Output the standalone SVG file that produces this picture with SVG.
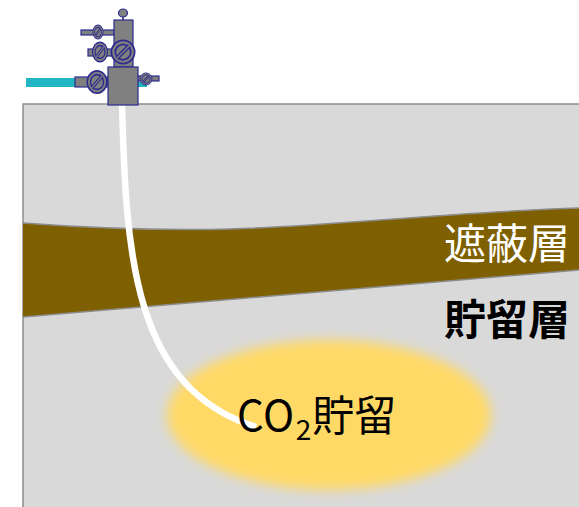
<svg xmlns="http://www.w3.org/2000/svg" xmlns:xlink="http://www.w3.org/1999/xlink" width="579" height="507" viewBox="0 0 579 507">
  <defs>
    <style>
      .metal { fill: #808080; stroke: #2b2b8f; stroke-width: 1.2; }
      .label { font-family: "Noto Sans CJK JP", "Noto Sans", sans-serif; font-size: 42px; }
    </style>
    <filter id="soft" x="-20%" y="-30%" width="140%" height="160%">
      <feGaussianBlur stdDeviation="6"/>
    </filter>
    <!-- handwheel valve: body ring, inner ring and stem bar -->
    <symbol id="valve" viewBox="-10 -10 20 20" overflow="visible">
      <ellipse cx="0" cy="0" rx="9.3" ry="9.3" fill="#808080" stroke="#2b2b8f" stroke-width="1.4"/>
      <ellipse cx="0" cy="0" rx="6.2" ry="6.2" fill="none" stroke="#2b2b8f" stroke-width="1.4"/>
      <line x1="-5" y1="5" x2="5" y2="-5" stroke="#2b2b8f" stroke-width="3.2"/>
      <line x1="-5" y1="5" x2="5" y2="-5" stroke="#808080" stroke-width="1.2"/>
    </symbol>
  </defs>

  <!-- ground section -->
  <g id="ground">
    <rect x="23" y="104" width="570" height="420" fill="#d9d9d9" stroke="#8c8c8c" stroke-width="1.5"/>
  </g>

  <!-- storage plume -->
  <g id="plume">
    <ellipse cx="329" cy="415" rx="162" ry="75" fill="#ffd966" filter="url(#soft)"/>
  </g>

  <!-- cap rock band -->
  <g id="caprock">
    <path d="M23,223 C90,228 150,231 230,229 C330,226 450,212 579,208 L579,270 L23,317 Z" fill="#7f6000"/>
    <path d="M23,223 C90,228 150,231 230,229 C330,226 450,212 579,208" fill="none" stroke="#8c8c8c" stroke-width="1.5"/>
    <path d="M23,317 L579,270" fill="none" stroke="#8c8c8c" stroke-width="1.5"/>
  </g>

  <!-- injection well -->
  <g id="connectors">
    <path d="M122,104 C126,255 133,388 256,427" fill="none" stroke="#ffffff" stroke-width="6.5"/>
  </g>

  <!-- wellhead -->
  <g id="wellhead">
    <rect x="26" y="78" width="50" height="9" fill="#22b5c2"/>
    <rect x="136" y="82" width="11" height="5" fill="#22b5c2"/>
    <rect class="metal" x="75" y="77" width="33" height="10"/>
    <rect class="metal" x="136" y="76" width="23" height="5"/>
    <rect class="metal" x="81" y="30" width="33" height="5"/>
    <rect class="metal" x="88" y="49" width="26" height="7"/>
    <line x1="123" y1="14" x2="123" y2="20" stroke="#2b2b8f" stroke-width="1.6"/>
    <ellipse class="metal" cx="123" cy="13" rx="4.5" ry="4"/>
    <rect class="metal" x="114" y="20" width="19" height="47"/>
    <rect class="metal" x="108" y="67" width="30" height="38"/>
    <use xlink:href="#valve" x="-10" y="-10" width="20" height="20" transform="translate(98,32) scale(0.55,0.75)"/>
    <use xlink:href="#valve" x="-10" y="-10" width="20" height="20" transform="translate(100,52) scale(0.8,1.05)"/>
    <use xlink:href="#valve" x="-10" y="-10" width="20" height="20" transform="translate(123,52) scale(1.25,1.25)"/>
    <use xlink:href="#valve" x="-10" y="-10" width="20" height="20" transform="translate(97,82) scale(1.05,1.2)"/>
    <use xlink:href="#valve" x="-10" y="-10" width="20" height="20" transform="translate(146,79) scale(0.65,0.65)"/>
  </g>

  <!-- layer labels -->
  <g id="label-caprock">
    <text class="label" x="444" y="259" fill="#ffffff">遮蔽層</text>
  </g>
  <g id="label-reservoir">
    <text class="label" x="444" y="335" fill="#000000" font-weight="bold">貯留層</text>
  </g>
  <g id="label-storage">
    <text class="label" x="237" y="431" fill="#000000"><tspan letter-spacing="0.5">CO</tspan><tspan font-size="28" dy="9" dx="1">2</tspan><tspan dy="-9" dx="1">貯留</tspan></text>
  </g>
</svg>
